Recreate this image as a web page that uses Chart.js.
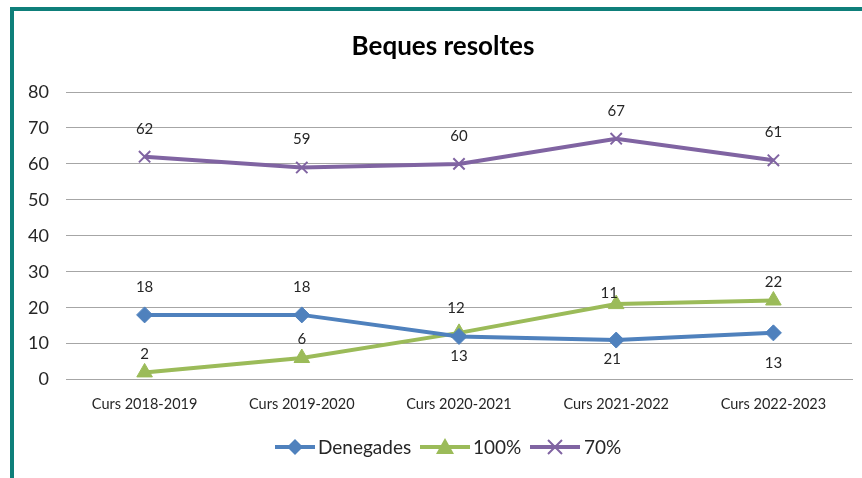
<!DOCTYPE html>
<html>
<head>
<meta charset="utf-8">
<script src="https://cdn.jsdelivr.net/npm/chart.js@4.4.0/dist/chart.umd.min.js"></script>
<style>
  html, body { margin: 0; padding: 0; background: #fff; }
  #wrap { position: relative; width: 862px; height: 478px; }
</style>
</head>
<body>
<div id="wrap"><canvas id="beques" width="862" height="478"></canvas></div>
<script>
// data
var cursos     = ["Curs 2018-2019","Curs 2019-2020","Curs 2020-2021","Curs 2021-2022","Curs 2022-2023"];
var denegades  = [18, 18, 12, 11, 13];
var cent       = [2, 6, 13, 21, 22];
var setanta    = [62, 59, 60, 67, 61];
var yTicks     = [0, 10, 20, 30, 40, 50, 60, 70, 80];

// where the value labels sit relative to each point (the original places them by hand)
var labelDy = [
  [-28, -28, -28, -47, 30],
  [-18, -19, 23, 55, -18],
  [-28, -28, -28, -28, -28]
];
var labelDx = [
  [0, 0, -3, -7, 0],
  [0, 0, 0, -4, 0],
  [0, 0, 0, 0, 0]
];

var FONT = "Lato, 'Open Sans', sans-serif";
var colBlue = "#4F81BD", colGreen = "#9BBB59", colPurple = "#8064A2";

function drawMarker(ctx, style, x, y, color) {
  ctx.save();
  ctx.fillStyle = color;
  ctx.strokeStyle = color;
  ctx.beginPath();
  if (style == "rectRot") {
    ctx.moveTo(x, y - 8); ctx.lineTo(x + 8, y); ctx.lineTo(x, y + 8); ctx.lineTo(x - 8, y);
    ctx.closePath(); ctx.fill();
  } else if (style == "triangle") {
    ctx.moveTo(x, y - 9); ctx.lineTo(x + 9, y + 7); ctx.lineTo(x - 9, y + 7);
    ctx.closePath(); ctx.fill();
  } else {
    ctx.lineWidth = 2;
    ctx.moveTo(x - 7, y - 7); ctx.lineTo(x + 7, y + 7);
    ctx.moveTo(x + 7, y - 7); ctx.lineTo(x - 7, y + 7);
    ctx.stroke();
  }
  ctx.restore();
}

var extras = {
  id: "extras",
  afterDraw: function(chart) {
    var ctx = chart.ctx;
    // frame
    ctx.save();
    ctx.strokeStyle = "#0E7F7A";
    ctx.lineWidth = 4;
    ctx.beginPath();
    ctx.moveTo(12, 478); ctx.lineTo(12, 9); ctx.lineTo(862, 9);
    ctx.stroke();
    // title
    ctx.fillStyle = "#000";
    ctx.font = "bold 26px " + FONT;
    ctx.textAlign = "center";
    ctx.textBaseline = "middle";
    ctx.fillText("Beques resoltes", 443, 47);
    // value labels
    ctx.font = "15px " + FONT;
    ctx.fillStyle = "#262626";
    chart.data.datasets.forEach(function(ds, i) {
      var meta = chart.getDatasetMeta(i);
      meta.data.forEach(function(pt, j) {
        ctx.fillText(String(ds.data[j]), pt.x + labelDx[i][j], pt.y + labelDy[i][j]);
      });
    });
    // legend with line + marker samples
    var items = [
      {x: 275, w: 40, tx: 318},
      {x: 420, w: 50, tx: 473},
      {x: 530, w: 50, tx: 584}
    ];
    var ly = 447;
    ctx.font = "19px " + FONT;
    ctx.textAlign = "left";
    chart.data.datasets.forEach(function(ds, i) {
      var it = items[i];
      ctx.strokeStyle = ds.borderColor;
      ctx.lineWidth = 4;
      ctx.beginPath();
      ctx.moveTo(it.x, ly); ctx.lineTo(it.x + it.w, ly);
      ctx.stroke();
      drawMarker(ctx, ds.pointStyle, it.x + it.w / 2, ly, ds.borderColor);
      ctx.fillStyle = "#262626";
      ctx.fillText(ds.label, it.tx, ly + 1);
    });
    ctx.restore();
  }
};

function serie(label, data, color, style, radius) {
  return {
    label: label,
    data: data,
    borderColor: color,
    backgroundColor: color,
    borderWidth: 4,
    pointStyle: style,
    pointRadius: radius,
    pointHoverRadius: radius,
    pointBorderWidth: style == "crossRot" ? 2 : 1,
    tension: 0
  };
}

new Chart(document.getElementById("beques"), {
  type: "line",
  data: {
    labels: cursos,
    datasets: [
      serie("Denegades", denegades, colBlue, "rectRot", 8),
      serie("100%", cent, colGreen, "triangle", 9),
      serie("70%", setanta, colPurple, "crossRot", 8)
    ]
  },
  options: {
    responsive: false,
    animation: false,
    layout: { padding: { left: 22, right: 4, top: 92, bottom: 49 } },
    plugins: {
      legend: { display: false },
      title: { display: false },
      tooltip: { enabled: false }
    },
    scales: {
      x: {
        offset: true,
        grid: { display: false, drawTicks: false },
        border: { color: "#A6A6A6", width: 1 },
        ticks: { color: "#262626", font: { family: FONT, size: 14.5 }, padding: 16, maxRotation: 0 }
      },
      y: {
        min: 0, max: 80,
        afterBuildTicks: function(axis) { axis.ticks = yTicks.map(function(v) { return {value: v}; }); },
        afterFit: function(axis) { axis.width = 44; },
        grid: { color: "#A6A6A6", lineWidth: 1, drawTicks: false },
        border: { display: false },
        ticks: { color: "#262626", font: { family: FONT, size: 18 }, padding: 17 }
      }
    }
  },
  plugins: [extras]
});
</script>
</body>
</html>
